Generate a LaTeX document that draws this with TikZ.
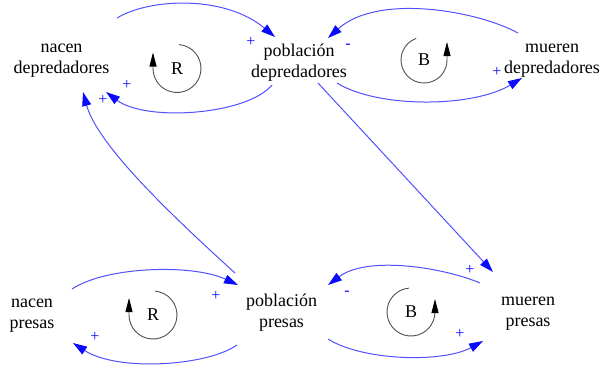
\documentclass[tikz,border=0pt]{standalone}
\usepackage{fontspec}
\setmainfont{Liberation Serif}
\usetikzlibrary{arrows.meta}
\definecolor{lineblue}{RGB}{80,80,255}
\definecolor{tipblue}{RGB}{10,10,255}
\definecolor{loopgray}{RGB}{80,80,80}
\newcommand{\varfont}{\fontsize{18}{21}\selectfont}
\newcommand{\signfont}{\fontsize{16}{18}\selectfont}
\begin{document}
\begin{tikzpicture}[x=1pt,y=-1pt,
  var/.style={align=center,inner sep=0pt,font=\varfont},
  sign/.style={inner sep=0pt,font=\signfont,text=tipblue},
  loopname/.style={inner sep=0pt,font=\varfont},
  link/.style={draw=lineblue,line width=1pt,-{Triangle[length=14pt,width=9pt,color=tipblue]}},
  loopline/.style={draw=loopgray,line width=0.9pt,-{Triangle[length=14pt,width=7pt,color=black]}}]
\useasboundingbox (0,0) rectangle (601,370);
% variables
\node[var] (nd) at (61.5,58.3) {\strut nacen\\\strut depredadores};
\node[var] (pd) at (299,62.8) {\strut población\\\strut depredadores};
\node[var] (md) at (552,59) {\strut mueren\\\strut depredadores};
\node[var] (np) at (32,313.3) {\strut nacen\\\strut presas};
\node[var] (pp) at (281.5,312.8) {\strut población\\\strut presas};
\node[var] (mp) at (528,311.3) {\strut mueren\\\strut presas};
% loops
\node[loopname] (r1) at (177,68.5) {R};
\draw[loopline] ([shift={(85:24pt)}]r1.center) arc[start angle=85,end angle=-180,radius=24pt] -- ++(0,-16);
\node[loopname] (b1) at (424,60) {B};
\draw[loopline] ([shift={(110:23pt)}]b1.center) arc[start angle=110,end angle=360,radius=23pt] -- ++(0,-18);
\node[loopname] (r2) at (153,315) {R};
\draw[loopline] ([shift={(85:24pt)}]r2.center) arc[start angle=85,end angle=-180,radius=24pt] -- ++(0,-17);
\node[loopname] (b2) at (411,312) {B};
\draw[loopline] ([shift={(95:24pt)}]b2.center) arc[start angle=95,end angle=360,radius=24pt] -- ++(0,-13);
% links
\draw[link] ([shift={(55.5,-40.3)}]nd.center) .. controls +(33,-20) and +(-50,-42) .. ([shift={(-24,-25.8)}]pd.center);
\draw[link] ([shift={(-27,22.2)}]pd.center) .. controls +(-25,30) and +(40,30) .. ([shift={(44.5,33.7)}]nd.center);
\draw[link] ([shift={(-34,-26)}]md.center) .. controls +(-40,-22) and +(50,-45) .. ([shift={(29,-24.8)}]pd.center);
\draw[link] ([shift={(38,20.2)}]pd.center) .. controls +(40,25) and +(-50,30) .. ([shift={(-30,19)}]md.center);
\draw[link] ([shift={(19,20.2)}]pd.center) -- ([shift={(-35,-39.3)}]mp.center);
\draw[link] ([shift={(-46.5,-39.8)}]pp.center) .. controls +(-55,-50) and +(15,55) .. ([shift={(21.5,33.7)}]nd.center);
\draw[link] ([shift={(40,-24.3)}]np.center) .. controls +(35,-23) and +(-45,-21) .. ([shift={(-43.5,-27.8)}]pp.center);
\draw[link] ([shift={(-44.5,32.2)}]pp.center) .. controls +(-30,21) and +(45,29) .. ([shift={(41,29.7)}]np.center);
\draw[link] ([shift={(-48,-28.3)}]mp.center) .. controls +(-35,-15) and +(40,-30) .. ([shift={(46.5,-27.8)}]pp.center);
\draw[link] ([shift={(46.5,26.2)}]pp.center) .. controls +(35,22) and +(-40,22) .. ([shift={(-45,29.7)}]mp.center);
% polarities
\node[sign] (s1) at (251,42) {+};
\node[sign] (s2) at (127,85) {+};
\node[sign] (s3) at (348,46) {-};
\node[sign] (s4) at (497,72) {+};
\node[sign] (s5) at (470,270) {+};
\node[sign] (s6) at (103,100) {+};
\node[sign] (s7) at (216,296) {+};
\node[sign] (s8) at (95,337) {+};
\node[sign] (s9) at (347,293) {-};
\node[sign] (s10) at (460,334) {+};
\end{tikzpicture}
\end{document}
